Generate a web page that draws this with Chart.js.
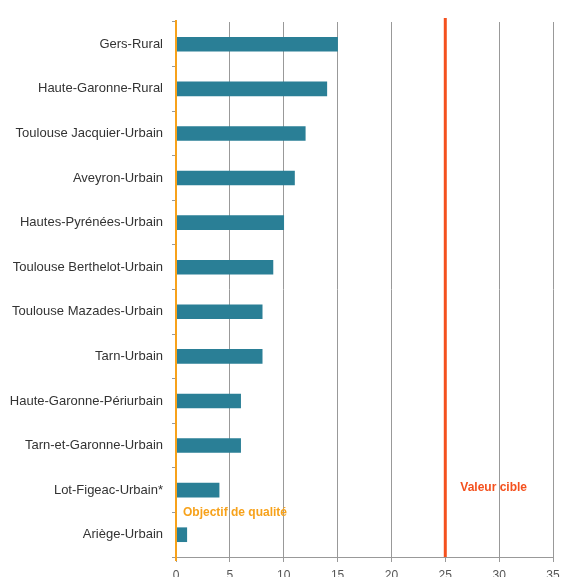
<!DOCTYPE html>
<html><head><meta charset="utf-8">
<script src="https://cdn.jsdelivr.net/npm/chart.js@4/dist/chart.umd.min.js"></script>
<style>html,body{margin:0;padding:0;background:#fff;}canvas{display:block;}</style>
</head><body>
<canvas id="c" width="563" height="577"></canvas>
<script>
const categories = ["Gers-Rural","Haute-Garonne-Rural","Toulouse Jacquier-Urbain","Aveyron-Urbain","Hautes-Pyrénées-Urbain","Toulouse Berthelot-Urbain","Toulouse Mazades-Urbain","Tarn-Urbain","Haute-Garonne-Périurbain","Tarn-et-Garonne-Urbain","Lot-Figeac-Urbain*","Ariège-Urbain"];
const values = [15,14,12,11,10,9,8,8,6,6,4,1];
const xTicks = [0,5,10,15,20,25,30,35];
const targetValue = 25;
const targetLabel = "Valeur cible";
const qualityValue = 0;
const qualityLabel = "Objectif de qualité";

const refLines = {
  id:'refLines',
  afterDatasetsDraw(chart){
    const {ctx, chartArea, scales:{x,y}} = chart;
    ctx.save();
    const xq = x.getPixelForValue(qualityValue);
    ctx.strokeStyle = '#f7a21b'; ctx.lineWidth = 2;
    ctx.beginPath(); ctx.moveTo(xq, chartArea.top-2); ctx.lineTo(xq, chartArea.bottom+4); ctx.stroke();
    const xt = x.getPixelForValue(targetValue);
    ctx.strokeStyle = '#f4511e'; ctx.lineWidth = 3;
    ctx.beginPath(); ctx.moveTo(xt, chartArea.top-4); ctx.lineTo(xt, chartArea.bottom); ctx.stroke();
    ctx.font = 'bold 12px "Liberation Sans", Arial, sans-serif';
    ctx.textBaseline = 'middle'; ctx.textAlign = 'left';
    const nLast = categories.length-1;
    ctx.fillStyle = '#f4511e';
    ctx.fillText(targetLabel, xt+15, y.getPixelForValue(nLast-1)-2);
    ctx.fillStyle = '#f7a21b';
    ctx.fillText(qualityLabel, xq+7, (y.getPixelForValue(nLast-1)+y.getPixelForValue(nLast))/2);
    ctx.restore();
  }
};

new Chart(document.getElementById('c'), {
  type:'bar',
  data:{labels:categories, datasets:[{data:values, backgroundColor:'#2a7f96', barThickness:14}]},
  options:{
    indexAxis:'y', responsive:false, animation:false,
    layout:{padding:{top:22,right:10,left:0,bottom:0}},
    plugins:{legend:{display:false}, tooltip:{enabled:false}},
    scales:{
      x:{min:0,max:35,
        afterBuildTicks(s){ s.ticks = xTicks.map(v=>({value:v})); },
        afterFit(s){ s.height = 20; s.paddingLeft = 0; s.paddingRight = 0; },
        grid:{color:'#999', lineWidth:1, tickLength:5},
        border:{display:true,color:'#999'},
        ticks:{color:'#555', padding:6, maxRotation:0, font:{size:12, family:'"Liberation Sans", Arial, sans-serif'}}
      },
      y:{
        afterFit(s){ s.width = 176; },
        grid:{offset:true, drawOnChartArea:false, color:'#999', tickLength:4},
        border:{display:false},
        ticks:{color:'#333', padding:9, font:{size:13, family:'"Liberation Sans", Arial, sans-serif'}}
      }
    }
  },
  plugins:[refLines]
});
</script>
</body></html>
